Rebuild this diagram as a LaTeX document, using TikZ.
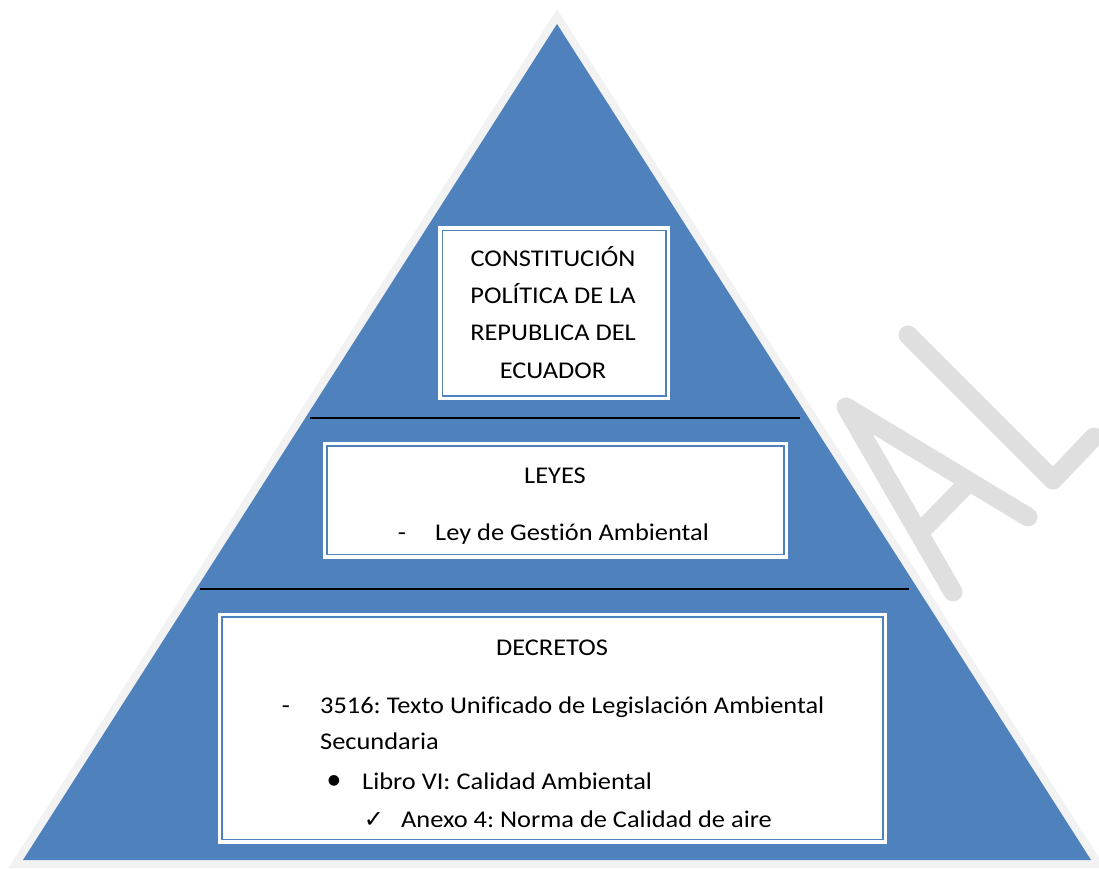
\documentclass[tikz,border=0pt]{standalone}
\usepackage{fontspec}
\setmainfont[Ligatures=CommonOff,FakeStretch=1.1]{Carlito}
\newfontfamily\symbolfont{DejaVu Sans}
\definecolor{pyramidblue}{HTML}{4F81BD}
\definecolor{pyramidrim}{HTML}{F2F2F2}
\definecolor{watermark}{HTML}{DFDFDF}
\frenchspacing
\begin{document}
\begin{tikzpicture}[x=1pt,y=-1pt,
  body/.style={font=\fontsize{24}{37}\selectfont, inner sep=0pt, text=black},
  panel/.style={fill=white, inner sep=0pt},
  frame/.style={pyramidblue, line width=1.6pt},
  rule/.style={black, line width=2pt},
  wm/.style={watermark, line width=19pt, line cap=round, line join=round}]
\useasboundingbox (0,0) rectangle (1099,869);

% watermark letters behind the pyramid
\draw[wm] (953,592) -- (846,407) -- (1028,517) (925,527) -- (963,488);
\draw[wm] (908,335) -- (1053,480) -- (1094,437);

% pyramid with light rim
\coordinate (apex) at (557,24);
\coordinate (bl) at (23,860);
\coordinate (br) at (1091,860);
\draw[pyramidrim, line width=16pt, line join=miter] (apex) -- (br) -- (bl) -- cycle;
\fill[pyramidblue] (apex) -- (br) -- (bl) -- cycle;

% white panels with inner blue frame
\node[panel, minimum width=232pt, minimum height=174pt] (constitucion) at (554,313) {};
\node[panel, minimum width=465.6pt, minimum height=117.3pt] (leyes) at (555.5,500.3) {};
\node[panel, minimum width=669.6pt, minimum height=231.3pt] (decretos) at (552.5,728.3) {};
\foreach \b in {constitucion,leyes,decretos}
  \draw[frame] ([shift={(4.5,4.5)}]\b.north west) rectangle ([shift={(-4.5,-4.5)}]\b.south east);

% separating rules
\coordinate (r1w) at (310,418);
\coordinate (r1e) at (800,418);
\coordinate (r2w) at (200,589);
\coordinate (r2e) at (909,589);
\draw[rule] (r1w) -- (r1e);
\draw[rule] (r2w) -- (r2e);

% top level
\node[body, anchor=base] (c1) at (553,266.7) {CONSTITUCIÓN};
\node[body, anchor=base] (c2) at (553,303) {POLÍTICA DE LA};
\node[body, anchor=base] (c3) at (553,340) {REPUBLICA DEL};
\node[body, anchor=base] (c4) at (553,378) {ECUADOR};

% laws
\node[body, anchor=base] (l1) at (555,483) {LEYES};
\node[body, anchor=base] (l2d) at (402,540) {-};
\node[body, anchor=base west] (l2) at (435,540) {Ley de Gestión Ambiental};

% decrees
\node[body, anchor=base] (d1) at (552,655) {DECRETOS};
\node[body, anchor=base] (d2d) at (286,713) {-};
\node[body, anchor=base west] (d2) at (320,713) {3516: Texto Unificado de Legislación Ambiental};
\node[body, anchor=base west] (d3) at (320,749) {Secundaria};
\node[inner sep=0pt, font=\symbolfont\fontsize{14}{16}\selectfont, anchor=center] (d4b) at (334,781) {●};
\node[body, anchor=base west] (d4) at (362,789) {Libro VI: Calidad Ambiental};
\node[inner sep=0pt, font=\symbolfont\fontsize{24}{26}\selectfont, anchor=center] (d5c) at (374,820) {✓};
\node[body, anchor=base west] (d5) at (401,827) {Anexo 4: Norma de Calidad de aire};
\end{tikzpicture}
\end{document}
